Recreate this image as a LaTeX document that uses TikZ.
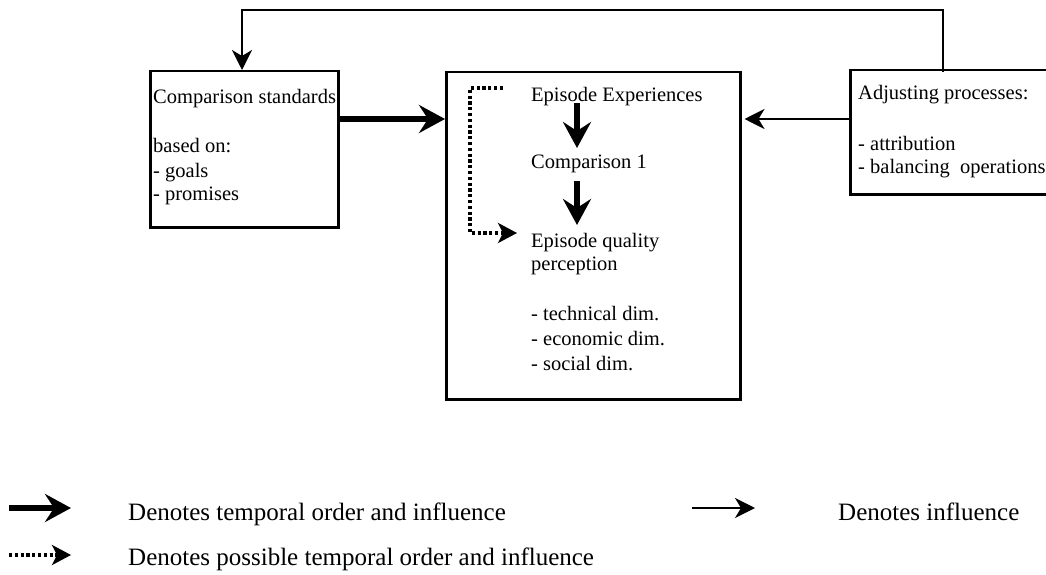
\documentclass[tikz,border=0pt]{standalone}
\usepackage{fontspec}
\setmainfont{Liberation Serif}
\usetikzlibrary{arrows.meta}
\newcommand\diagfont{\fontsize{20.5}{24}\selectfont}
\newcommand\legendfont{\fontsize{25}{30}\selectfont}
\tikzset{
  box/.style={draw, line width=2.5pt, inner sep=0pt, anchor=north west},
  txt/.style={inner sep=0pt, anchor=base west, font=\diagfont},
  legtxt/.style={inner sep=0pt, anchor=base west, font=\legendfont},
  heavy/.style={line width=6.5pt, -{Stealth[length=26pt,width=28pt,inset=9pt]}},
  thin/.style={line width=2pt, -{Stealth[length=20pt,width=20pt,inset=6pt]}},
  thinline/.style={line width=2pt},
  dotline/.style={line width=3.2pt, dash pattern=on 3.2pt off 2.6pt},
  dotarrow/.style={dotline, -{Stealth[length=19pt,width=20pt,inset=5pt]}}
}
\begin{document}
\begin{tikzpicture}[x=1pt,y=-1pt]
\clip (0,0) rectangle (1046,575);

% boxes
\node[box, minimum width=188pt, minimum height=156pt] (cs) at (149,70) {};
\node[box, minimum width=294pt, minimum height=327pt] (mid) at (445,71) {};
\node[box, minimum width=205pt, minimum height=124pt] (ap) at (849,69) {};

% comparison standards
\node[txt] (cs1) at (153,103) {Comparison standards};
\node[txt] (cs2) at (153,153) {based on:};
\node[txt] (cs3) at (153,177) {- goals};
\node[txt] (cs4) at (153,200) {- promises};

% episode column
\node[txt] (ee) at (531,102) {Episode Experiences};
\node[txt] (c1) at (531,168) {Comparison 1};
\node[txt] (eq) at (531,247) {Episode quality};
\node[txt] (eq2) at (531,270) {perception};
\node[txt] (d1) at (531,320) {- technical dim.};
\node[txt] (d2) at (531,345) {- economic dim.};
\node[txt] (d3) at (531,370) {- social dim.};

% adjusting processes
\node[txt] (ap1) at (858,100) {Adjusting processes:};
\node[txt] (ap2) at (858,150) {- attribution};
\node[txt] (ap3) at (858,173) {- balancing\ \ operations};

% connectors
\draw[heavy] ([shift={(0,49)}]cs.north east) -- ([shift={(0,48)}]mid.north west);
\draw[heavy] ([shift={(46,1)}]ee.base west) -- ([shift={(46,-20)}]c1.base west);
\draw[heavy] ([shift={(46,13)}]c1.base west) -- ([shift={(46,-22)}]eq.base west);
\draw[thin] ([shift={(0,50)}]ap.north west) -- ([shift={(3,48)}]mid.north east);

\coordinate (fb) at (600,10);
\draw[thin] ([shift={(94,3)}]ap.north west) |- (fb) -| ([shift={(93,0)}]cs.north west);

\coordinate (dstart) at (503,88);
\draw[dotarrow] (dstart) -| (470,233) -- ([shift={(-14,-14)}]eq.base west);

% legend
\coordinate (l1a) at (9,508);  \coordinate (l1b) at (71,508);
\coordinate (l2a) at (9,555);  \coordinate (l2b) at (71,555);
\coordinate (l3a) at (692,508); \coordinate (l3b) at (755,508);
\draw[heavy] (l1a) -- (l1b);
\draw[dotarrow] (l2a) -- (l2b);
\draw[thin] (l3a) -- (l3b);
\node[legtxt] (lt1) at (128,520) {Denotes temporal order and influence};
\node[legtxt] (lt2) at (128,565) {Denotes possible temporal order and influence};
\node[legtxt] (lt3) at (838,520) {Denotes influence};
\end{tikzpicture}
\end{document}
